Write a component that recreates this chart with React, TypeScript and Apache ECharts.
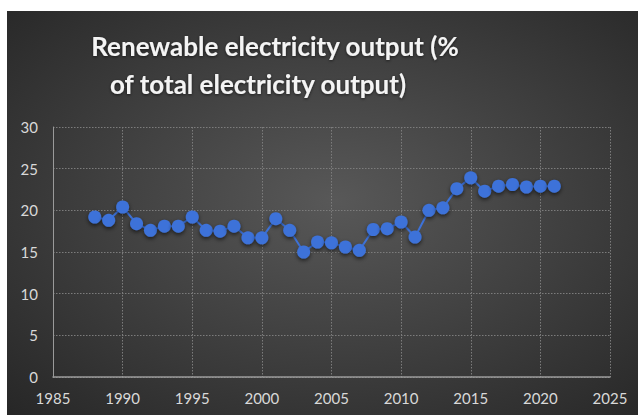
import React, { useEffect, useRef } from "react";
import * as echarts from "echarts";

const years = [1988, 1989, 1990, 1991, 1992, 1993, 1994, 1995, 1996, 1997, 1998, 1999, 2000, 2001, 2002, 2003, 2004, 2005, 2006, 2007, 2008, 2009, 2010, 2011, 2012, 2013, 2014, 2015, 2016, 2017, 2018, 2019, 2020, 2021];
const values = [19.2, 18.8, 20.4, 18.4, 17.6, 18.1, 18.1, 19.2, 17.6, 17.5, 18.1, 16.7, 16.7, 19.0, 17.6, 15.0, 16.2, 16.1, 15.6, 15.2, 17.7, 17.8, 18.6, 16.8, 20.0, 20.3, 22.6, 23.9, 22.3, 22.9, 23.1, 22.8, 22.9, 22.9];
const titleLines = ["Renewable electricity output (%", "of total electricity output)"];

export default function App() {
  const ref = useRef<HTMLDivElement>(null);
  useEffect(() => {
    if (!ref.current) return;
    const chart = echarts.init(ref.current, undefined, { renderer: "svg" });
    const labelColor = "#d9d9d9";
    const gridLine = { show: true, lineStyle: { color: "#7c7c7c", type: [1.5, 1.5] as any, width: 1 } };
    const titleStyle = {
      fill: "#f4f4f4",
      font: "bold 26px Lato",
      textAlign: "center",
      textVerticalAlign: "middle",
      textShadowColor: "rgba(0,0,0,0.6)",
      textShadowBlur: 3,
      textShadowOffsetY: 1,
    };
    chart.setOption({
      animation: false,
      graphic: [
        {
          type: "rect",
          z: -10,
          silent: true,
          shape: { x: 7, y: 11, width: 631, height: 404 },
          style: {
            fill: new echarts.graphic.RadialGradient(0.52, 0.47, 0.75, [
              { offset: 0, color: "#585858" },
              { offset: 1, color: "#262626" },
            ]),
          },
        },
        { type: "text", x: 275, y: 46, style: { ...titleStyle, text: titleLines[0] } as any },
        { type: "text", x: 258, y: 84, style: { ...titleStyle, text: titleLines[1] } as any },
      ],
      grid: { left: 53, right: 28, top: 127, bottom: 38 },
      xAxis: {
        type: "value",
        min: 1985,
        max: 2025,
        interval: 5,
        axisLine: { show: true, lineStyle: { color: "#9a9a9a", width: 1.5 } },
        axisTick: { show: false },
        splitLine: gridLine,
        axisLabel: { color: labelColor, fontSize: 15, fontFamily: "Lato", margin: 13, formatter: (v: number) => String(v) },
      },
      yAxis: {
        type: "value",
        min: 0,
        max: 30,
        interval: 5,
        axisLine: { show: true, lineStyle: { color: "#9a9a9a", width: 1 } },
        axisTick: { show: false },
        splitLine: gridLine,
        axisLabel: { color: labelColor, fontSize: 15, fontFamily: "Lato", margin: 15 },
      },
      series: [
        {
          type: "line",
          data: years.map((y, i) => [y, values[i]]),
          symbol: "circle",
          symbolSize: 13,
          lineStyle: { color: "#3d72d9", width: 2 },
          itemStyle: {
            color: "#3d72d9",
            shadowColor: "rgba(0,0,0,0.6)",
            shadowBlur: 4,
            shadowOffsetY: 2,
          },
        },
      ],
    });
    return () => chart.dispose();
  }, []);
  return <div ref={ref} style={{ position: "fixed", left: 0, top: 0, width: 638, height: 415, background: "#ffffff" }} />;
}
